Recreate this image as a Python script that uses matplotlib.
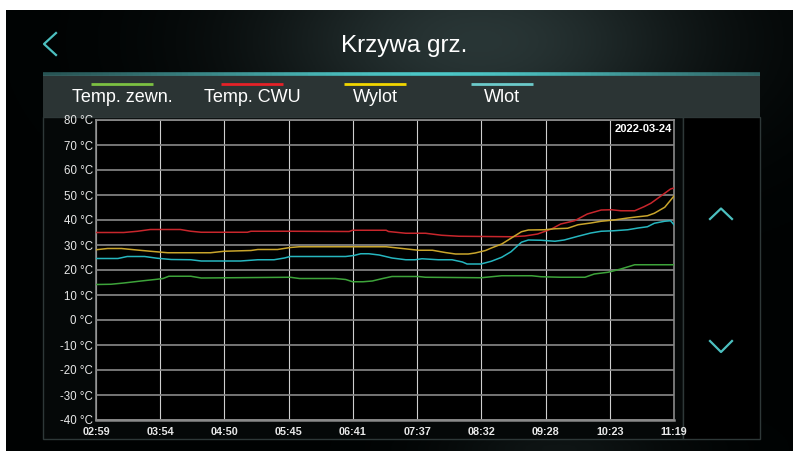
"""Krzywa grz. - heating curve screen"""

import numpy as np
import matplotlib.pyplot as plt
from matplotlib.patches import Rectangle
from matplotlib.collections import LineCollection

plt.rcParams['font.family'] = ['Liberation Sans', 'DejaVu Sans']

W, H = 793, 451

title = "Krzywa grz."
date_label = "2022-03-24"
time_labels = ["02:59", "03:54", "04:50", "05:45", "06:41",
               "07:37", "08:32", "09:28", "10:23", "11:19"]
temp_ticks = [80, 70, 60, 50, 40, 30, 20, 10, 0, -10, -20, -30, -40]

names = ["Temp. zewn.", "Temp. CWU", "Wylot", "Wlot"]
legend_colors = ["#7cc142", "#e52228", "#f2d600", "#6ccaca"]
line_colors = ["#3da33a", "#c8262c", "#c9a52c", "#26b6bf"]

# minutes after 02:59 / temperature in °C
zewn_t = [0, 13, 24, 39, 53, 58, 63, 82, 91, 168, 176, 207, 216, 222, 231,
          239, 248, 256, 279, 285, 333, 351, 377, 385, 402, 423, 431, 443,
          454, 466, 500]
zewn_v = [14.2, 14.3, 14.8, 15.6, 16.3, 16.6, 17.5, 17.5, 16.8, 17.1, 16.6,
          16.6, 16.2, 15.3, 15.3, 15.6, 16.6, 17.4, 17.4, 17.1, 16.9, 17.7,
          17.7, 17.3, 17.1, 17.1, 18.4, 19.1, 20.4, 22.1, 22.1]

cwu_t = [0, 24, 36, 47, 73, 82, 91, 131, 134, 168, 219, 222, 251, 253, 268,
         285, 299, 314, 337, 359, 371, 382, 394, 402, 414, 425, 437, 446,
         454, 466, 474, 480, 489, 497, 500]
cwu_v = [35.0, 35.0, 35.5, 36.2, 36.2, 35.5, 35.1, 35.1, 35.5, 35.5, 35.4,
         35.9, 35.9, 35.4, 34.7, 34.7, 33.9, 33.5, 33.4, 33.3, 33.6, 34.4,
         36.4, 38.4, 39.7, 42.4, 44.0, 44.1, 43.7, 43.7, 45.3, 46.7, 49.7,
         52.4, 52.8]

wylot_t = [0, 10, 22, 33, 47, 62, 99, 111, 134, 140, 157, 168, 176, 251,
           265, 279, 291, 302, 311, 322, 328, 337, 342, 351, 359, 368, 374,
           388, 397, 408, 417, 428, 437, 448, 460, 469, 477, 483, 492, 500]
wylot_v = [28.1, 28.6, 28.6, 28.1, 27.5, 26.9, 26.9, 27.5, 27.8, 28.2, 28.2,
           29.0, 29.3, 29.3, 28.6, 27.9, 27.9, 27.0, 26.4, 26.4, 26.8, 27.8,
           28.8, 30.4, 32.7, 35.3, 36.0, 36.1, 36.5, 36.7, 38.1, 38.8, 39.5,
           40.0, 40.8, 41.3, 41.7, 42.7, 45.1, 49.6]

wlot_t = [0, 19, 27, 42, 53, 65, 82, 91, 125, 140, 154, 163, 168, 176, 216,
          223, 229, 236, 245, 256, 268, 276, 282, 296, 308, 317, 321, 333,
          342, 351, 359, 368, 374, 385, 397, 405, 417, 428, 437, 448, 460,
          469, 477, 483, 492, 497, 500]
wlot_v = [24.6, 24.6, 25.4, 25.4, 24.7, 24.2, 24.1, 23.6, 23.6, 24.1, 24.1,
          24.8, 25.4, 25.4, 25.4, 25.8, 26.5, 26.5, 26.0, 24.8, 24.1, 24.1,
          24.5, 24.1, 24.1, 23.2, 22.4, 22.4, 23.5, 25.1, 27.3, 31.1, 32.0,
          31.9, 31.5, 32.0, 33.5, 34.8, 35.5, 35.7, 36.1, 36.8, 37.3, 38.7,
          39.5, 39.7, 38.1]

series = [(zewn_t, zewn_v), (cwu_t, cwu_v), (wylot_t, wylot_v), (wlot_t, wlot_v)]

fig = plt.figure(figsize=(W / 100, H / 100), dpi=100)
fig.patch.set_facecolor('white')

# screen background, pixel coordinates
bg = fig.add_axes([0, 0, 1, 1])
bg.set_xlim(0, W)
bg.set_ylim(H, 0)
bg.axis('off')

gx, gy = np.meshgrid(np.linspace(6, W, 300), np.linspace(10, H, 160))
glow = np.exp(-((gx - 480) / 220) ** 2 - ((gy - 40) / 110) ** 2)
glow += 0.35 * np.exp(-((gx - 560) / 120) ** 2 - ((gy - 450) / 30) ** 2)
dark = np.array([0.0, 0.01, 0.01])
light = np.array([0.16, 0.21, 0.21])
img = dark + glow[..., None] * (light - dark)
bg.imshow(np.clip(img, 0, 1), extent=(6, W, H, 10), aspect='auto', zorder=0)

# back arrow and title
bg.plot([56, 44, 56], [33, 44, 55], color='#4cc0c0', lw=1.6, zorder=3)
bg.text(404, 52, title, ha='center', va='baseline', fontsize=17.5,
        color='white', zorder=3)

# glowing separator
xs = np.linspace(43, 760, 120)
segs = [[(xs[i], 73.5), (xs[i + 1], 73.5)] for i in range(len(xs) - 1)]
fade = np.exp(-((xs[:-1] - 430) / 320) ** 2)
cols = [(0.22 + 0.08 * f, 0.42 + 0.36 * f, 0.42 + 0.36 * f, 0.55 + 0.45 * f) for f in fade]
bg.add_collection(LineCollection(segs, colors=cols, linewidths=2.6, zorder=3))

# legend strip
bg.add_patch(Rectangle((43, 75), 717, 42, facecolor='#2b3434', edgecolor='none', zorder=2))
legend_x = [122, 252, 375, 502]
for name, col, cx in zip(names, legend_colors, legend_x):
    bg.plot([cx - 31, cx + 31], [84, 84], color=col, lw=2, solid_capstyle='butt', zorder=3)
    bg.text(cx, 102, name, ha='center', va='baseline', fontsize=13,
            color='white', zorder=3)

# chart frame and the arrow panel
bg.add_patch(Rectangle((43, 117), 640, 322, facecolor='#050808',
                       edgecolor='#2e3838', lw=1, zorder=2))
bg.add_patch(Rectangle((683, 117), 77, 322, facecolor='#000000',
                       edgecolor='#2e3838', lw=1, zorder=2))
bg.plot([710, 721, 732], [219, 208.5, 219], color='#4cc0c0', lw=1.6, zorder=3)
bg.plot([710, 721, 732], [341, 352, 341], color='#4cc0c0', lw=1.6, zorder=3)

# the plot itself
ax = fig.add_axes([96 / W, 1 - 420 / H, 578 / W, 300 / H])
ax.set_facecolor('black')
for (t, v), col in zip(series, line_colors):
    ax.plot(t, v, color=col, lw=1.1, zorder=3)

ax.set_xlim(0, 500)
ax.set_ylim(-40, 80)
ax.set_xticks(np.linspace(0, 500, len(time_labels)))
ax.set_xticklabels(time_labels, fontsize=7.8, fontweight='bold')
ax.set_yticks(temp_ticks)
ax.set_yticklabels([f"{v} °C" for v in temp_ticks], fontsize=8.3)
ax.tick_params(length=0, colors='#e8e8e8')
ax.tick_params(axis='x', pad=5)
ax.tick_params(axis='y', pad=2)
ax.xaxis.grid(True, color='#cfcfcf', lw=0.8)
ax.yaxis.grid(True, color='#8a8a8a', lw=1.2)
ax.set_axisbelow(True)
for side, sp in ax.spines.items():
    sp.set_color('#8a8a8a')
    sp.set_linewidth(1.2)
ax.spines['bottom'].set_linewidth(1.8)

ax.text(0.996, 0.985, date_label, transform=ax.transAxes, ha='right', va='top',
        fontsize=8, fontweight='bold', color='white')

fig.savefig('out.png', dpi=100)
